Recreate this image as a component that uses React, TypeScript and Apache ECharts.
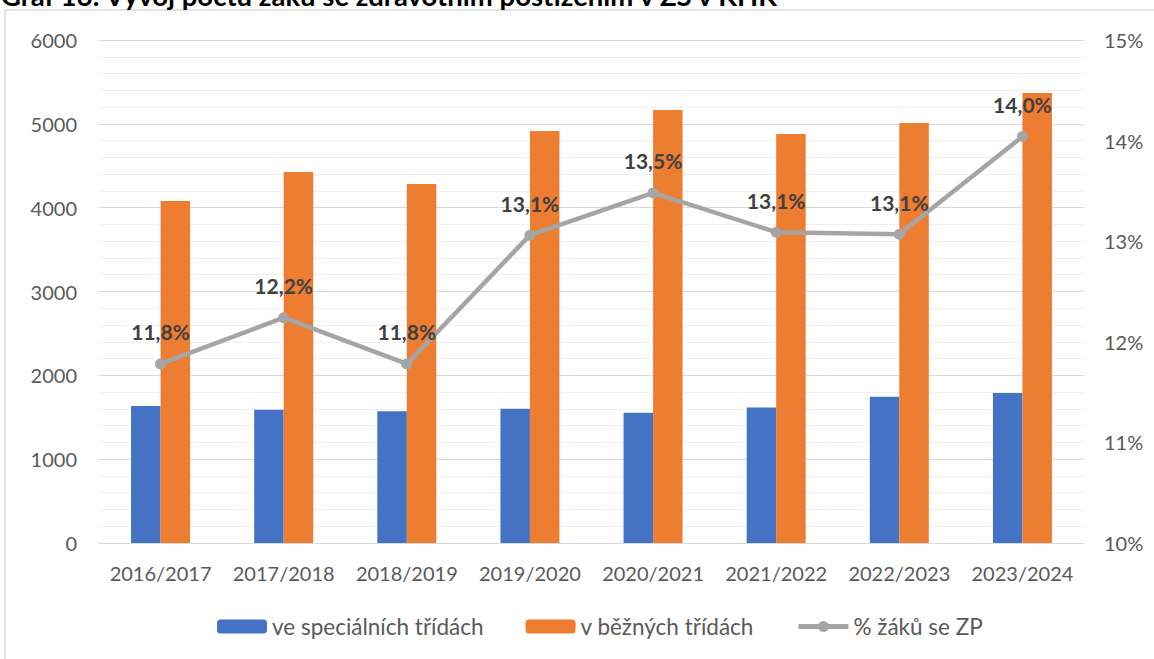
import React, { useEffect, useRef } from "react";
import * as echarts from "echarts";

const title = "Graf 16: Vývoj počtu žáků se zdravotním postižením v ZŠ v KHK";
const categories = ["2016/2017", "2017/2018", "2018/2019", "2019/2020", "2020/2021", "2021/2022", "2022/2023", "2023/2024"];
const specialClasses = [1635, 1590, 1572, 1600, 1553, 1617, 1746, 1790];
const regularClasses = [4080, 4426, 4283, 4915, 5165, 4879, 5010, 5368];
const sharePct = [11.78, 12.24, 11.78, 13.06, 13.48, 13.09, 13.07, 14.04];
const seriesNames = ["ve speciálních třídách", "v běžných třídách", "% žáků se ZP"];
const leftTicks = { min: 0, max: 6000, interval: 1000 };
const rightTicks = { min: 10, max: 15, interval: 1 };

const FONT = "Lato, 'Open Sans', sans-serif";

export default function App() {
  const ref = useRef<HTMLDivElement>(null);
  useEffect(() => {
    if (!ref.current) return;
    const chart = echarts.init(ref.current, null, { renderer: "svg" });
    chart.setOption({
      animation: false,
      backgroundColor: "#ffffff",
      textStyle: { fontFamily: FONT },
      graphic: [
        {
          type: "rect",
          shape: { x: 5, y: 10, width: 1170, height: 680 },
          style: { fill: "none", stroke: "#d9d9d9", lineWidth: 1.5 },
          silent: true,
        },
        {
          type: "text",
          x: 1,
          y: -5,
          style: {
            text: title,
            font: `bold 27.5px ${FONT}`,
            fill: "#000000",
            align: "left",
            verticalAlign: "middle",
          },
          silent: true,
        },
      ],
      grid: { left: 99, right: 70, top: 40, bottom: 116, containLabel: false },
      legend: {
        bottom: 16,
        left: 212,
        itemWidth: 50,
        itemHeight: 14,
        itemGap: 42,
        textStyle: { fontSize: 22.5, color: "#595959", fontFamily: FONT },
        data: [
          { name: seriesNames[0] },
          { name: seriesNames[1] },
          {
            name: seriesNames[2],
            lineStyle: { width: 5, color: "#a5a5a5" },
            itemStyle: { color: "#a5a5a5" },
          },
        ],
      },
      xAxis: {
        type: "category",
        data: categories,
        axisLine: { lineStyle: { color: "#d9d9d9", width: 1 } },
        axisTick: { show: false },
        axisLabel: { fontSize: 20, color: "#595959", margin: 20, fontFamily: FONT, interval: 0 },
      },
      yAxis: [
        {
          type: "value",
          min: leftTicks.min,
          max: leftTicks.max,
          interval: leftTicks.interval,
          axisLine: { show: false },
          axisTick: { show: false },
          axisLabel: {
            fontSize: 20,
            color: "#595959",
            margin: 22,
            fontFamily: FONT,
            formatter: (v: number) => String(v),
          },
          splitLine: { lineStyle: { color: "#d9d9d9", width: 1 } },
          minorTick: { show: false, splitNumber: 5 },
          minorSplitLine: { show: true, lineStyle: { color: "#f0f0f0", width: 1 } },
        },
        {
          type: "value",
          min: rightTicks.min,
          max: rightTicks.max,
          interval: rightTicks.interval,
          position: "right",
          axisLine: { show: false },
          axisTick: { show: false },
          splitLine: { show: false },
          axisLabel: {
            fontSize: 20,
            color: "#595959",
            margin: 20,
            fontFamily: FONT,
            formatter: (v: number) => `${v}%`,
          },
        },
      ],
      series: [
        {
          name: seriesNames[0],
          type: "bar",
          data: specialClasses,
          barWidth: 29.5,
          barGap: "0%",
          itemStyle: { color: "#4472c4" },
        },
        {
          name: seriesNames[1],
          type: "bar",
          data: regularClasses,
          barWidth: 29.5,
          barGap: "0%",
          itemStyle: { color: "#ed7d31" },
        },
        {
          name: seriesNames[2],
          type: "line",
          yAxisIndex: 1,
          data: sharePct,
          symbol: "circle",
          symbolSize: 11,
          z: 5,
          lineStyle: { color: "#a5a5a5", width: 4.5 },
          itemStyle: { color: "#a5a5a5" },
          label: {
            show: true,
            position: "top",
            distance: 16,
            fontSize: 21,
            fontWeight: "bold",
            color: "#404040",
            fontFamily: FONT,
            formatter: (p: any) => `${Number(p.value).toFixed(1).replace(".", ",")}%`,
          },
        },
      ],
    });
    return () => chart.dispose();
  }, []);
  return (
    <div
      ref={ref}
      style={{ position: "fixed", left: 0, top: 0, width: 1154, height: 659 }}
    />
  );
}
